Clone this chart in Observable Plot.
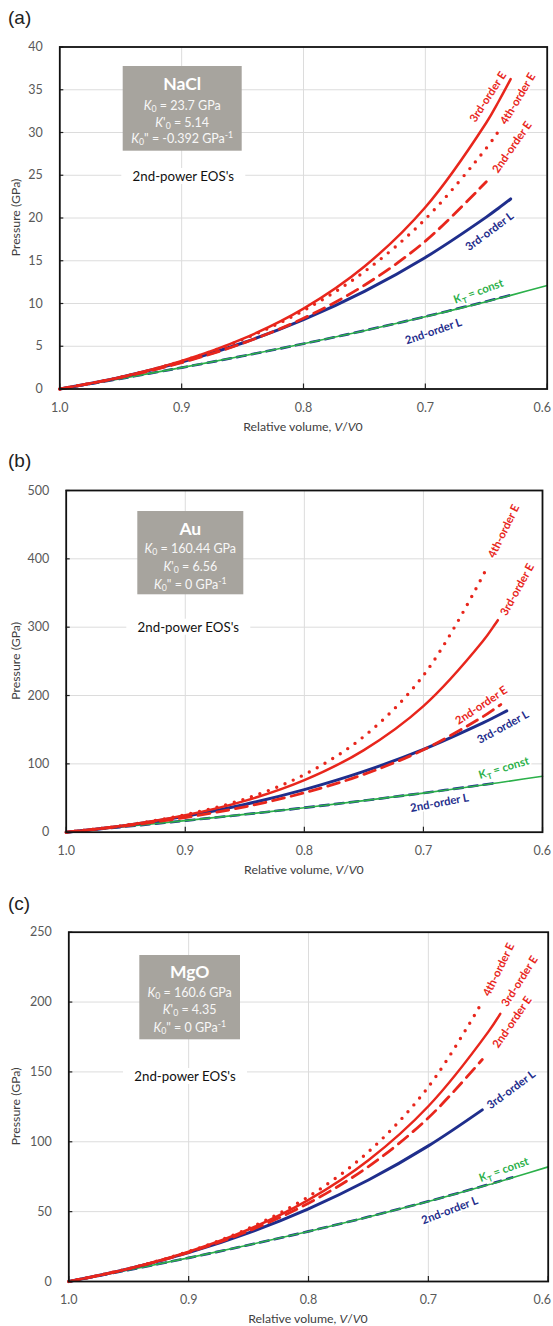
<!DOCTYPE html>
<html><head><meta charset="utf-8">
<script src="https://cdn.jsdelivr.net/npm/d3@7"></script>
<script src="https://cdn.jsdelivr.net/npm/@observablehq/plot@0.6"></script>
<style>
body{margin:0;background:#fff;}
#wrap{position:relative;width:553px;height:1326px;overflow:hidden;background:#fff;}
.panel{position:absolute;left:0;}
</style></head><body><div id="wrap"></div>
<script>
// ---------------- DATA ----------------
const xTicks = [1.0, 0.9, 0.8, 0.7, 0.6];
const naclTicks = [0, 5, 10, 15, 20, 25, 30, 35, 40];
const auTicks = [0, 100, 200, 300, 400, 500];
const mgoTicks = [0, 50, 100, 150, 200, 250];

const curveNames = ["4th-order E", "3rd-order E", "2nd-order E", "3rd-order L", "K<sub>T</sub> = const", "2nd-order L"];

// (a) NaCl
const naclTitle = "NaCl";
const naclParams = ["<i>K</i><sub>0</sub> = 23.7 GPa", "<i>K</i>'<sub>0</sub> = 5.14", "<i>K</i><sub>0</sub>\" = -0.392 GPa<sup>-1</sup>"];
const naclVolume = [1.00, 0.95, 0.90, 0.85, 0.80, 0.75, 0.70, 0.65, 0.64, 0.63, 0.60];
const naclKT = [0, 1.216, 2.497, 3.852, 5.289, 6.818, 8.453, 10.210, 10.577, 10.950, 12.107];
const naclL2 = [0, 1.216, 2.498, 3.854, 5.293, 6.829, 8.473, 10.245, 10.615, 10.994, null];
const naclL3 = [0, 1.373, 3.151, 5.379, 8.114, 11.423, 15.386, 20.103, 21.145, 22.229, null];
const naclE2 = [0, 1.347, 3.083, 5.334, 8.271, 12.140, 17.292, 24.248, null, null, null];
const naclE3 = [0, 1.387, 3.275, 5.856, 9.405, 14.334, 21.261, 31.145, 33.597, 36.241, null];
const naclE4 = [0, 1.385, 3.257, 5.778, 9.169, 13.731, 19.877, 28.164, 30.140, null, null];

// (b) Au
const auTitle = "Au";
const auParams = ["<i>K</i><sub>0</sub> = 160.44 GPa", "<i>K</i>'<sub>0</sub> = 6.56", "<i>K</i><sub>0</sub>\" = 0 GPa<sup>-1</sup>"];
const auVolume = [1.00, 0.95, 0.90, 0.85, 0.80, 0.75, 0.70, 0.65, 0.6475, 0.64, 0.6375, 0.635, 0.63, 0.60];
const auKT = [0, 8.230, 16.904, 26.075, 35.801, 46.156, 57.225, 69.115, null, 71.602, null, null, 74.129, 81.957];
const auL2 = [0, 8.230, 16.908, 26.087, 35.834, 46.227, 57.360, 69.351, null, 71.860, null, null, null, null];
const auL3 = [0, 9.93, 23.34, 40.64, 62.31, 88.92, 121.18, 159.94, null, 168.54, null, null, 177.49, null];
const auE2 = [0, 9.39, 21.50, 37.19, 57.67, 84.65, 120.57, 169.07, null, 180.72, null, 186.83, null, null];
const auE3 = [0, 10.12, 24.74, 45.80, 76.16, 120.16, 184.49, 279.75, null, 303.88, 310.23, null, null, null];
const auE4 = [0, 10.27, 25.55, 48.66, 84.27, 140.12, 229.45, 375.45, 384.88, null, null, null, null, null];

// (c) MgO
const mgoTitle = "MgO";
const mgoParams = ["<i>K</i><sub>0</sub> = 160.6 GPa", "<i>K</i>'<sub>0</sub> = 4.35", "<i>K</i><sub>0</sub>\" = 0 GPa<sup>-1</sup>"];
const mgoVolume = [1.00, 0.95, 0.90, 0.85, 0.80, 0.75, 0.70, 0.655, 0.65, 0.64, 0.63, 0.60];
const mgoKT = [0, 8.238, 16.921, 26.101, 35.837, 46.202, 57.282, null, 69.184, 71.674, 74.203, 82.039];
const mgoL2 = [0, 8.238, 16.924, 26.113, 35.870, 46.273, 57.418, 68.178, 69.420, null, 74.496, null];
const mgoL3 = [0, 9.141, 20.670, 34.860, 52.045, 72.619, 97.061, 122.848, null, null, null, null];
const mgoE2 = [0, 9.128, 20.894, 36.143, 56.048, 82.263, 117.178, 158.916, null, null, null, null];
const mgoE3 = [0, 9.212, 21.294, 37.229, 58.407, 86.828, 125.435, null, 178.661, 191.607, null, null];
const mgoE4 = [0, 9.230, 21.474, 38.003, 60.766, 92.842, 139.245, 200.113, null, null, null, null];

// ---------------- STYLE / LAYOUT ----------------
const RED = "#e8261c", BLUE = "#1f2e8c", GREEN = "#2bb04a";
const FONT = "Lato, 'Open Sans', sans-serif";

function pts(vol, P) { return vol.map((v, i) => ({v, P: P[i]})).filter(d => d.P != null); }

function rich(el, s) {
  const sel = d3.select(el); sel.text(null);
  const re = /<(i|sub|sup)>(.*?)<\/\1>|([^<]+)/g;
  let m, cur = 0;
  while ((m = re.exec(s))) {
    const kind = m[3] != null ? "n" : m[1];
    const txt = m[3] != null ? m[3] : m[2];
    const off = kind === "sub" ? 3 : kind === "sup" ? -4 : 0;
    const t = sel.append("tspan").text(txt);
    if (kind === "i") t.attr("font-style", "italic");
    if (kind === "sub" || kind === "sup") t.attr("font-size", "70%");
    if (off !== cur) { t.attr("dy", off - cur); cur = off; }
  }
}

function panel(o) {
  const fw = 553 - o.ml - o.mr, fh = o.h - o.mt - o.mb;
  const lineOpt = {x: "v", y: "P", curve: "catmull-rom", fill: "none"};
  const labelMarks = o.labels.map((l) => Plot.text([l], {
    x: "v", y: "P", text: d => curveNames[d.k], rotate: l.r, fill: l.c,
    fontSize: 11.3, fontWeight: "bold", textAnchor: "middle",
    stroke: "white", strokeWidth: 3.5, strokeLinejoin: "round"
  }));
  const chart = Plot.plot({
    width: 553, height: o.h,
    marginTop: o.mt, marginBottom: o.mb, marginLeft: o.ml, marginRight: o.mr,
    style: {fontFamily: FONT, fontSize: "12.5px", color: "#595959", background: "white"},
    x: {domain: [1.0, 0.6], ticks: xTicks, tickFormat: d => d.toFixed(1), tickSize: 0, tickPadding: 14, label: null},
    y: {domain: [0, o.yMax], ticks: o.yTicks, tickSize: 0, tickPadding: 17, label: null},
    marks: [
      Plot.ruleX(xTicks, {stroke: "#dcdcdc", strokeWidth: 1}),
      Plot.ruleY(o.yTicks, {stroke: "#dcdcdc", strokeWidth: 1}),
      Plot.line(pts(o.vol, o.L2), {...lineOpt, stroke: BLUE, strokeWidth: 2.6, strokeDasharray: "9 6"}),
      Plot.line(pts(o.vol, o.KT), {...lineOpt, stroke: GREEN, strokeWidth: 1.6}),
      Plot.line(pts(o.vol, o.L3), {...lineOpt, stroke: BLUE, strokeWidth: 3}),
      Plot.line(pts(o.vol, o.E2), {...lineOpt, stroke: RED, strokeWidth: 2.8, strokeDasharray: "12 7"}),
      Plot.line(pts(o.vol, o.E4), {...lineOpt, stroke: RED, strokeWidth: 3.4, strokeDasharray: "0 9", strokeLinecap: "round"}),
      Plot.line(pts(o.vol, o.E3), {...lineOpt, stroke: RED, strokeWidth: 2.5}),
      Plot.tickX(xTicks, {stroke: "#222", strokeWidth: 1.2, insetTop: fh - 5}),
      Plot.tickY(o.yTicks, {stroke: "#222", strokeWidth: 1.2, insetRight: fw - 4}),
      Plot.frame({stroke: "#111", strokeWidth: 1.8}),
      ...labelMarks
    ]
  });
  const svg = d3.select(chart);
  svg.selectAll("text").each(function () { const s = this.textContent; if (s.includes("<")) rich(this, s); });

  // parameter box
  const b = o.box;
  svg.append("rect").attr("x", b.x).attr("y", b.y).attr("width", b.w).attr("height", b.h).attr("fill", "#a7a49e");
  svg.append("text").attr("x", b.cx).attr("y", b.ty).attr("text-anchor", "middle").attr("dominant-baseline", "central")
    .attr("font-family", FONT).attr("font-weight", "bold").attr("font-size", 17.5).attr("fill", "white").text(o.title);
  o.params.forEach((p, i) => {
    const t = svg.append("text").attr("x", b.cx).attr("y", b.ly[i]).attr("text-anchor", "middle").attr("dominant-baseline", "central")
      .attr("font-family", FONT).attr("font-size", 12.5).attr("fill", "#f7f7f7");
    rich(t.node(), p);
  });
  // "2nd-power EOS's"
  svg.append("rect").attr("x", o.eos[0] - 62).attr("y", o.eos[1] - 8).attr("width", 124).attr("height", 16).attr("fill", "white");
  svg.append("text").attr("x", o.eos[0]).attr("y", o.eos[1]).attr("text-anchor", "middle").attr("dominant-baseline", "central")
    .attr("font-family", FONT).attr("font-size", 13.3).attr("fill", "#111").text("2nd-power EOS's");
  // axis titles
  svg.append("text").attr("transform", `translate(15,${o.mt + fh / 2}) rotate(-90)`).attr("text-anchor", "middle")
    .attr("dominant-baseline", "central").attr("font-family", FONT).attr("font-size", 12.3).attr("fill", "#404040").text("Pressure (GPa)");
  const xt = svg.append("text").attr("x", o.ml + fw / 2).attr("y", o.mt + fh + 37).attr("text-anchor", "middle")
    .attr("dominant-baseline", "central").attr("font-family", FONT).attr("font-size", 12.3).attr("fill", "#404040");
  rich(xt.node(), "Relative volume, <i>V</i>/<i>V</i>0");
  // panel letter
  svg.append("text").attr("x", 8).attr("y", o.letterY).attr("text-anchor", "start").attr("dominant-baseline", "central")
    .attr("font-family", "'Liberation Sans', Arial, sans-serif").attr("font-size", 19).attr("fill", "#222").text(o.letter);

  const div = document.createElement("div");
  div.className = "panel"; div.style.top = o.top + "px";
  div.appendChild(chart);
  document.getElementById("wrap").appendChild(div);

  // keep the right-most tick label inside the page
  const sr = chart.getBoundingClientRect();
  svg.selectAll("text").each(function () {
    if (this.textContent === "0.6") {
      const r = this.getBoundingClientRect();
      const over = r.right - sr.left - 551;
      if (over > 0) this.setAttribute("dx", -over);
    }
  });
}

panel({
  top: 0, h: 441, mt: 46.5, mb: 52.5, ml: 59.3, mr: 6.3, yMax: 40, yTicks: naclTicks,
  vol: naclVolume, KT: naclKT, L2: naclL2, L3: naclL3, E2: naclE2, E3: naclE3, E4: naclE4,
  title: naclTitle, params: naclParams, letter: "(a)", letterY: 17,
  box: {x: 122.7, y: 66, w: 119, h: 84.7, cx: 182.2, ty: 83.3, ly: [105, 121.7, 138.3]},
  eos: [183.3, 176],
  labels: [
    {k: 0, v: 0.624, P: 33.94, r: -59, c: RED},
    {k: 1, v: 0.6486, P: 34.15, r: -57, c: RED},
    {k: 2, v: 0.6287, P: 28.28, r: -55, c: RED},
    {k: 3, v: 0.6473, P: 18.42, r: -36.5, c: BLUE},
    {k: 4, v: 0.6564, P: 11.40, r: -20, c: GREEN},
    {k: 5, v: 0.6933, P: 6.73, r: -19, c: BLUE}
  ]
});
panel({
  top: 443, h: 441, mt: 47, mb: 52.3, ml: 65.7, mr: 11, yMax: 500, yTicks: auTicks,
  vol: auVolume, KT: auKT, L2: auL2, L3: auL3, E2: auE2, E3: auE3, E4: auE4,
  title: auTitle, params: auParams, letter: "(b)", letterY: 17,
  box: {x: 137.3, y: 68, w: 106, h: 83.3, cx: 190.3, ty: 85.3, ly: [105.3, 123, 141]},
  eos: [188.3, 183.7],
  labels: [
    {k: 0, v: 0.6325, P: 440.3, r: -64, c: RED},
    {k: 1, v: 0.6212, P: 354.8, r: -61, c: RED},
    {k: 2, v: 0.6514, P: 185.4, r: -33.6, c: RED},
    {k: 3, v: 0.6332, P: 153.6, r: -28.6, c: BLUE},
    {k: 4, v: 0.6325, P: 93.9, r: -16.7, c: GREEN},
    {k: 5, v: 0.6865, P: 42.7, r: -10.6, c: BLUE}
  ]
});
panel({
  top: 885, h: 441, mt: 46.7, mb: 45, ml: 68.3, mr: 5.3, yMax: 250, yTicks: mgoTicks,
  vol: mgoVolume, KT: mgoKT, L2: mgoL2, L3: mgoL3, E2: mgoE2, E3: mgoE3, E4: mgoE4,
  title: mgoTitle, params: mgoParams, letter: "(c)", letterY: 18,
  box: {x: 139.3, y: 70, w: 100.7, h: 84.3, cx: 189.7, ty: 86.7, ly: [106.7, 124.3, 141.7]},
  eos: [185, 191],
  labels: [
    {k: 0, v: 0.6412, P: 223.2, r: -64, c: RED},
    {k: 1, v: 0.6238, P: 214.9, r: -57.5, c: RED},
    {k: 2, v: 0.63, P: 185.6, r: -55.5, c: RED},
    {k: 3, v: 0.6308, P: 137.3, r: -36.5, c: BLUE},
    {k: 4, v: 0.637, P: 80.0, r: -20, c: GREEN},
    {k: 5, v: 0.6822, P: 50.8, r: -20.8, c: BLUE}
  ]
});
</script></body></html>
